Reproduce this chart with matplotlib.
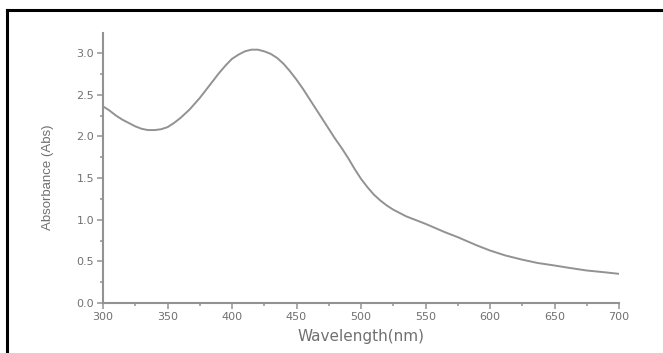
import matplotlib
matplotlib.use('Agg')
import matplotlib.pyplot as plt
from matplotlib.lines import Line2D
from matplotlib.ticker import MultipleLocator

# values
wavelength = [300, 305, 310, 315, 320, 325, 330, 335, 340, 345, 350, 355, 360,
              367, 375, 383, 390, 395, 400, 405, 410, 415, 420, 425, 430, 435,
              440, 445, 450, 455, 460, 465, 470, 475, 480, 485, 490, 495, 500,
              505, 510, 515, 520, 525, 535, 550, 565, 575, 590, 600, 612, 625,
              637, 650, 662, 675, 688, 700]
absorbance = [2.36, 2.31, 2.25, 2.20, 2.16, 2.12, 2.09, 2.075, 2.075, 2.085,
              2.11, 2.16, 2.22, 2.32, 2.46, 2.62, 2.76, 2.85, 2.93, 2.98, 3.02,
              3.04, 3.04, 3.02, 2.99, 2.94, 2.87, 2.78, 2.68, 2.57, 2.45, 2.33,
              2.21, 2.09, 1.97, 1.86, 1.74, 1.61, 1.49, 1.39, 1.30, 1.23, 1.17,
              1.12, 1.04, 0.95, 0.85, 0.79, 0.69, 0.63, 0.57, 0.52, 0.48, 0.45,
              0.42, 0.39, 0.37, 0.35]

xticks = [300, 350, 400, 450, 500, 550, 600, 650, 700]
yticks = [0.0, 0.5, 1.0, 1.5, 2.0, 2.5, 3.0]

plt.rcParams['font.family'] = ['DejaVu Sans']
gray = '#929292'
tgray = '#707070'

W, H = 663, 353
fig = plt.figure(figsize=(W / 100, H / 100), dpi=100)
ax = fig.add_axes([103 / W, 1 - 303 / H, 516 / W, 270 / H])

ax.plot(wavelength, absorbance, color=gray, lw=1.4)
ax.set_xlim(300, 700)
ax.set_ylim(0, 3.24)
ax.set_xticks(xticks)
ax.set_yticks(yticks)
ax.set_yticklabels([f'{v:.1f}' for v in yticks])
ax.xaxis.set_minor_locator(MultipleLocator(25))
ax.yaxis.set_minor_locator(MultipleLocator(0.25))

for s in ['top', 'right']:
    ax.spines[s].set_visible(False)
for s in ['left', 'bottom']:
    ax.spines[s].set_color(gray)
    ax.spines[s].set_linewidth(1.5)

ax.tick_params(which='major', direction='out', length=4, width=1.1, color=gray,
               labelcolor=tgray, labelsize=8, pad=2.5)
ax.tick_params(which='minor', direction='out', length=2, width=1.1, color=gray)

ax.set_xlabel('Wavelength(nm)', color=tgray, fontsize=11, labelpad=5)
ax.set_ylabel('Absorbance (Abs)', color=tgray, fontsize=9.5,
              family=['Liberation Sans', 'DejaVu Sans'])
ax.yaxis.set_label_coords(-0.094, 0.465)

# black frame of the cropped screenshot (only top and left edges visible)
fig.add_artist(Line2D([7 / W, 7 / W], [0, 1 - 10 / H], transform=fig.transFigure,
                      color='black', lw=2.2))
fig.add_artist(Line2D([7 / W, 1], [1 - 10 / H, 1 - 10 / H], transform=fig.transFigure,
                      color='black', lw=2.2))

fig.savefig('out.png', dpi=100)
